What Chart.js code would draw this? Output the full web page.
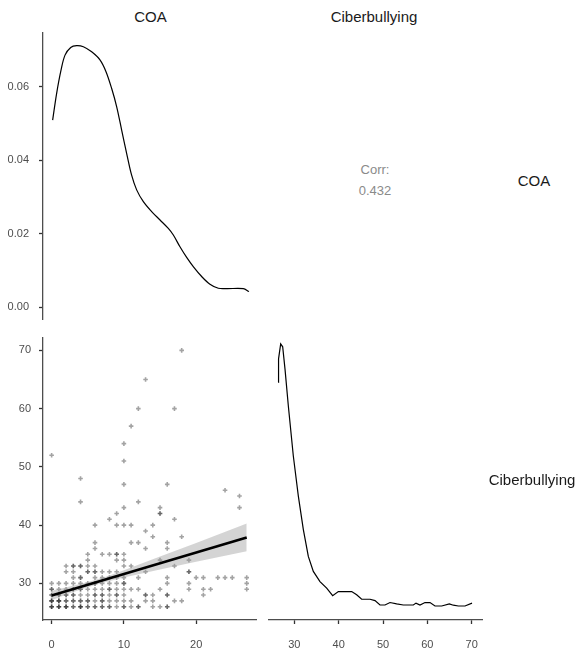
<!DOCTYPE html>
<html>
<head>
<meta charset="utf-8">
<script src="https://cdn.jsdelivr.net/npm/chart.js@4.4.0/dist/chart.umd.min.js"></script>
<style>
  html, body { margin: 0; padding: 0; background: #fff; }
  #wrap { position: relative; width: 580px; height: 653px; overflow: hidden; font-family: 'Liberation Sans', Arial, sans-serif; }
  .panel { position: absolute; }
  .lbl { position: absolute; white-space: nowrap; line-height: 1; transform: translateX(-50%); }
</style>
</head>
<body>
<div id="wrap">
  <div class="panel" style="left:0;top:32px;width:262px;height:288px"><canvas id="densCOA"></canvas></div>
  <div class="panel" style="left:0;top:332px;width:262px;height:321px"><canvas id="scatter"></canvas></div>
  <div class="panel" style="left:268px;top:332px;width:226px;height:321px"><canvas id="densCB"></canvas></div>
</div>
<script>
// density of COA (top-left)
const densCOAx = [0.13, 0.68, 1.28, 1.83, 2.61, 3.43, 4.35, 5.49, 6.63, 7.46, 8.24, 8.92, 9.61, 10.30, 10.98,
  11.67, 12.59, 13.73, 14.88, 16.02, 16.71, 17.62, 18.54, 19.45, 20.60, 21.74, 22.89, 24.03, 26.32, 27.10];
const densCOAy = [0.0509, 0.0582, 0.0645, 0.0686, 0.0707, 0.0712, 0.0709, 0.0695, 0.0673, 0.0641, 0.0595, 0.0546,
  0.0482, 0.0418, 0.0359, 0.0319, 0.0287, 0.0260, 0.0237, 0.0214, 0.0196, 0.0164, 0.0135, 0.0110, 0.0083, 0.0062,
  0.0051, 0.0050, 0.0050, 0.0042];
const densTicks = [0, 0.02, 0.04, 0.06];

// density of Ciberbullying (bottom-right)
const densCBx = [26.40, 26.45, 26.93, 27.38, 27.90, 28.65, 29.78, 30.91, 32.04, 33.16, 34.29, 35.79, 37.30, 38.65,
  39.93, 41.43, 42.94, 44.06, 45.19, 47.07, 48.20, 49.32, 50.45, 51.58, 53.08, 54.58, 56.84, 57.44, 58.34, 59.47,
  60.60, 61.72, 63.23, 64.96, 65.86, 66.99, 68.49, 70.07];
const densCBy = [0.1238, 0.1360, 0.1438, 0.1423, 0.1308, 0.1116, 0.0854, 0.0645, 0.0471, 0.0331, 0.0253, 0.0200,
  0.0166, 0.0127, 0.0148, 0.0148, 0.0148, 0.0131, 0.0108, 0.0108, 0.0101, 0.0078, 0.0078, 0.0091, 0.0084, 0.0078,
  0.0078, 0.0088, 0.0078, 0.0091, 0.0091, 0.0073, 0.0073, 0.0084, 0.0077, 0.0073, 0.0073, 0.0088];

// scatter: Ciberbullying values observed at each COA score (index = COA), repeats = overlapping points
const cbByCOA = [
  [26,26,26,27,27,27,28,28,29,29,30,52],
  [26,26,26,27,27,27,28,28,29,30],
  [26,26,26,27,27,28,28,29,30,32,33],
  [26,26,27,27,28,28,29,29,30,31,32,33,33],
  [26,26,26,27,27,28,29,29,30,31,31,33,33,44,48],
  [26,26,27,27,28,29,30,32,32,33,34,35],
  [26,26,27,28,28,29,30,30,31,32,32,33,36,37,40],
  [26,26,27,27,28,28,29,30,31,32,35],
  [26,26,27,28,29,29,30,31,32,35,41],
  [26,27,28,28,29,30,31,32,34,35,35,40,42],
  [26,26,27,28,29,30,30,31,33,34,35,40,43,47,51,54],
  [26,27,29,33,37,40,57],
  [26,26,29,31,37,44,60],
  [27,28,28,32,36,39,65],
  [26,27,28,38,40],
  [26,29,34,42,42,43],
  [26,26,28,28,30,31,36,37,47],
  [27,33,41,60],
  [27,38,70],
  [29,30,32,32,34],
  [31],
  [28,29,31],
  [29],
  [31],
  [31,46],
  [31],
  [43,45],
  [29,30,31]
];

// linear fit and its confidence band
const fitCOA = [0, 27];
const fitCB = [27.94, 37.9];
const bandCOA = [0, 2.5, 5, 7.5, 10, 15, 20, 27];
const bandLow = [27.1, 28.3, 29.35, 30.25, 31.0, 32.4, 33.7, 35.5];
const bandHigh = [28.75, 29.45, 30.25, 31.15, 32.25, 34.6, 36.95, 40.3];

const coaTicks = [0, 10, 20];
const cbTicks = [30, 40, 50, 60, 70];

const corrValue = '0.432';
const varNames = ['COA', 'Ciberbullying'];

Chart.defaults.font.family = "'Liberation Sans', Arial, sans-serif";
Chart.defaults.font.size = 11;
Chart.defaults.color = '#4d4d4d';
Chart.defaults.animation = false;
Chart.defaults.events = [];
Chart.defaults.plugins.legend.display = false;
Chart.defaults.plugins.tooltip.enabled = false;
Chart.defaults.maintainAspectRatio = false;

const AXIS = '#4d4d4d';

function toPts(xs, ys) {
  return xs.map((x, i) => ({ x: x, y: ys[i] }));
}

function yAxis(min, max, ticks, fmt, pad) {
  return {
    type: 'linear', min: min, max: max,
    afterBuildTicks: s => { s.ticks = ticks.map(v => ({ value: v })); },
    ticks: { padding: pad, callback: fmt },
    grid: { drawOnChartArea: false, drawTicks: true, tickLength: 4, tickColor: '#333', tickWidth: 1.3 },
    border: { display: true, color: AXIS, width: 1.3 },
    afterFit: s => { s.width = 43; s.paddingTop = 0; s.paddingBottom = 0; }
  };
}

function xAxis(min, max, ticks) {
  return {
    type: 'linear', min: min, max: max,
    afterBuildTicks: s => { s.ticks = ticks.map(v => ({ value: v })); },
    ticks: { padding: 14, maxRotation: 0 },
    grid: { drawOnChartArea: false, drawTicks: true, tickLength: 4, tickColor: '#333', tickWidth: 1.3 },
    border: { display: true, color: AXIS, width: 1.3 },
    afterFit: s => { s.height = 33; s.paddingLeft = 0; s.paddingRight = 0; }
  };
}

const COA_MIN = -1.195, COA_MAX = 28.34;
const CB_MIN = 23.72, CB_MAX = 72.19;

// top-left: COA density
new Chart(document.getElementById('densCOA'), {
  type: 'scatter',
  data: {
    datasets: [{
      data: toPts(densCOAx, densCOAy),
      showLine: true, borderColor: '#000', borderWidth: 1.2, pointRadius: 0, tension: 0.35
    }]
  },
  options: {
    layout: { padding: { right: 4 } },
    scales: {
      x: { type: 'linear', display: false, min: COA_MIN, max: COA_MAX },
      y: yAxis(-0.00354, 0.0749, densTicks, v => v.toFixed(2), 10)
    }
  }
});

// bottom-left: scatter with linear fit
const scatterPts = cbByCOA.flatMap((vals, coa) => vals.map(v => ({ x: coa, y: v })));

new Chart(document.getElementById('scatter'), {
  type: 'scatter',
  data: {
    datasets: [
      {
        data: scatterPts, order: 3,
        pointStyle: 'cross', pointRadius: 2.3, borderWidth: 1.6,
        borderColor: 'rgba(0,0,0,0.36)', backgroundColor: 'rgba(0,0,0,0.36)'
      },
      {
        data: toPts(bandCOA, bandLow), order: 2, showLine: true, fill: false,
        borderColor: 'rgba(0,0,0,0)', pointRadius: 0
      },
      {
        data: toPts(bandCOA, bandHigh), order: 2, showLine: true, fill: '-1',
        borderColor: 'rgba(0,0,0,0)', backgroundColor: 'rgba(153,153,153,0.42)', pointRadius: 0
      },
      {
        data: toPts(fitCOA, fitCB), order: 1, showLine: true,
        borderColor: '#000', borderWidth: 2.6, pointRadius: 0
      }
    ]
  },
  options: {
    layout: { padding: { right: 4 } },
    scales: {
      x: xAxis(COA_MIN, COA_MAX, coaTicks),
      y: yAxis(CB_MIN, CB_MAX, cbTicks, v => String(v), 8)
    }
  }
});

// bottom-right: Ciberbullying density
new Chart(document.getElementById('densCB'), {
  type: 'scatter',
  data: {
    datasets: [{
      data: toPts(densCBx, densCBy),
      showLine: true, borderColor: '#000', borderWidth: 1.2, pointRadius: 0, tension: 0
    }]
  },
  options: {
    layout: { padding: { right: 12 } },
    scales: {
      x: xAxis(24.07, 72.32, cbTicks),
      y: { type: 'linear', display: false, min: 0, max: 0.15 }
    }
  }
});

// strip labels and correlation text
const labels = [
  { text: varNames[0], x: 150.5, y: 9, size: 15, color: '#1a1a1a' },
  { text: varNames[1], x: 374, y: 9, size: 15, color: '#1a1a1a' },
  { text: varNames[0], x: 534, y: 173, size: 15, color: '#1a1a1a' },
  { text: varNames[1], x: 532, y: 472, size: 15, color: '#1a1a1a' },
  { text: 'Corr:', x: 375, y: 162.5, size: 13, color: '#8a8a8a' },
  { text: corrValue, x: 375, y: 183.5, size: 13, color: '#8a8a8a' }
];
const wrap = document.getElementById('wrap');
labels.forEach(l => {
  const d = document.createElement('div');
  d.className = 'lbl';
  d.textContent = l.text;
  d.style.left = l.x + 'px';
  d.style.top = l.y + 'px';
  d.style.fontSize = l.size + 'px';
  d.style.color = l.color;
  wrap.appendChild(d);
});
</script>
</body>
</html>
